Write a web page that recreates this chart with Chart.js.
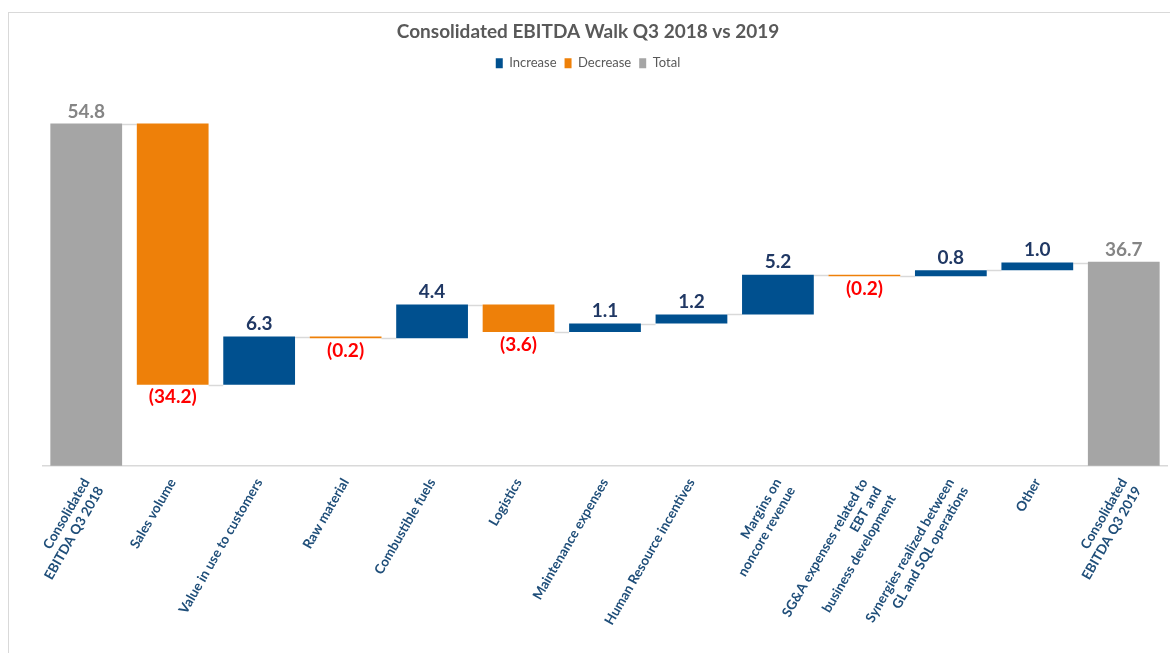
<!DOCTYPE html>
<html>
<head>
<meta charset="utf-8">
<title>Consolidated EBITDA Walk</title>
<script src="https://cdn.jsdelivr.net/npm/chart.js@4.4.0/dist/chart.umd.min.js"></script>
<style>
    html, body { margin: 0; padding: 0; background: #fff; }
    .frame {
        position: absolute;
        left: 8px;
        top: 12px;
        width: 1161px;
        height: 640px;
        border-left: 1px solid #D9D9D9;
        border-top: 1px solid #D9D9D9;
    }
    canvas { display: block; }
</style>
</head>
<body>
<div class="frame"><canvas id="walkChart" width="1161" height="640"></canvas></div>
<script>
/* ---- data ---- */
const CATEGORIES = [
    ['Consolidated', 'EBITDA Q3 2018'],
    'Sales volume',
    'Value in use to customers',
    'Raw material',
    'Combustible fuels',
    'Logistics',
    'Maintenance expenses',
    'Human Resource incentives',
    ['Margins on', 'noncore revenue'],
    ['SG&A expenses related to', 'EBT and', 'business development'],
    ['Synergies realized between', 'GL and SQL operations'],
    'Other',
    ['Consolidated', 'EBITDA Q3 2019']
];
const START_TOTAL = 54.8;
const END_TOTAL = 36.7;
const CHANGES = [-34.2, 6.3, -0.2, 4.4, -3.6, 1.1, 1.2, 5.2, -0.2, 0.8, 1.0];
const SERIES_NAMES = ['Increase', 'Decrease', 'Total'];
const Y_MIN = 10;
const Y_MAX = 60;

/* ---- build floating bars from the running total ---- */
const increaseData = [null];
const decreaseData = [null];
const totalData = [START_TOTAL];
const levels = [START_TOTAL];
let running = START_TOTAL;
CHANGES.forEach(function(d) {
    const next = running + d;
    if (d >= 0) {
        increaseData.push([running, next]);
        decreaseData.push(null);
    } else {
        decreaseData.push([running, next]);
        increaseData.push(null);
    }
    totalData.push(null);
    running = next;
    levels.push(next);
});
increaseData.push(null);
decreaseData.push(null);
totalData.push(END_TOTAL);
levels.push(END_TOTAL);

const BLUE = '#00508F';
const ORANGE = '#EE8009';
const GRAY = '#A5A5A5';

function barAt(chart, i) {
    for (let di = 0; di < chart.data.datasets.length; di++) {
        if (chart.data.datasets[di].data[i] !== null) {
            return chart.getDatasetMeta(di).data[i];
        }
    }
    return null;
}

// a bit of space under the legend
const legendMargin = {
    id: 'legendMargin',
    beforeInit(chart) {
        const fit = chart.legend.fit;
        chart.legend.fit = function() {
            fit.bind(chart.legend)();
            this.height += 4;
        };
    }
};

// thin grey lines joining each bar to the next one
const connectorPlugin = {
    id: 'connectors',
    beforeDatasetsDraw(chart) {
        const ctx = chart.ctx;
        const y = chart.scales.y;
        ctx.save();
        ctx.strokeStyle = '#D9D9D9';
        ctx.lineWidth = 1.5;
        for (let i = 0; i < CATEGORIES.length - 1; i++) {
            const a = barAt(chart, i);
            const b = barAt(chart, i + 1);
            if (!a || !b) continue;
            const py = Math.round(y.getPixelForValue(levels[i])) + 0.5;
            ctx.beginPath();
            ctx.moveTo(a.x + a.width / 2, py);
            ctx.lineTo(b.x - b.width / 2, py);
            ctx.stroke();
        }
        ctx.restore();
    }
};

// value labels: above for totals / increases, below in brackets for decreases
const labelPlugin = {
    id: 'walkLabels',
    afterDatasetsDraw(chart) {
        const ctx = chart.ctx;
        ctx.save();
        ctx.font = 'bold 19px Lato';
        ctx.textAlign = 'center';
        chart.data.datasets.forEach(function(ds, di) {
            const meta = chart.getDatasetMeta(di);
            meta.data.forEach(function(bar, i) {
                if (ds.data[i] === null) return;
                const top = Math.min(bar.y, bar.base);
                const bottom = Math.max(bar.y, bar.base);
                if (ds.label === 'Total') {
                    ctx.fillStyle = '#858585';
                    ctx.textBaseline = 'bottom';
                    ctx.fillText(ds.data[i].toFixed(1), bar.x, top - 2);
                } else if (ds.label === 'Increase') {
                    ctx.fillStyle = '#203864';
                    ctx.textBaseline = 'bottom';
                    ctx.fillText(CHANGES[i - 1].toFixed(1), bar.x, top - 3);
                } else {
                    ctx.fillStyle = '#FF0000';
                    ctx.textBaseline = 'top';
                    ctx.fillText('(' + Math.abs(CHANGES[i - 1]).toFixed(1) + ')', bar.x, bottom + 3);
                }
            });
        });
        ctx.restore();
    }
};

const ctx = document.getElementById('walkChart').getContext('2d');
new Chart(ctx, {
    type: 'bar',
    data: {
        labels: CATEGORIES,
        datasets: [
            { label: SERIES_NAMES[0], data: increaseData, backgroundColor: BLUE, grouped: false },
            { label: SERIES_NAMES[1], data: decreaseData, backgroundColor: ORANGE, grouped: false },
            { label: SERIES_NAMES[2], data: totalData, backgroundColor: GRAY, grouped: false }
        ]
    },
    options: {
        responsive: false,
        animation: false,
        categoryPercentage: 1,
        barPercentage: 0.83,
        layout: {
            padding: { left: 0, right: 3, top: 0, bottom: 7 }
        },
        plugins: {
            title: {
                display: true,
                text: 'Consolidated EBITDA Walk Q3 2018 vs 2019',
                color: '#595959',
                font: { family: 'Lato', size: 19, weight: 'bold' },
                padding: { top: 7, bottom: 6 }
            },
            legend: {
                position: 'top',
                labels: {
                    color: '#595959',
                    font: { family: 'Lato', size: 13 },
                    boxWidth: 7,
                    boxHeight: 10,
                    padding: 8
                }
            },
            tooltip: { enabled: false }
        },
        scales: {
            x: {
                grid: { display: false },
                border: { display: true, color: '#D9D9D9', width: 1.5 },
                ticks: {
                    autoSkip: false,
                    minRotation: 60,
                    maxRotation: 60,
                    padding: 2,
                    color: '#1F4E79',
                    font: { family: 'Lato', size: 13.5, weight: 'bold' }
                }
            },
            y: {
                min: Y_MIN,
                max: Y_MAX,
                grid: { display: false },
                border: { display: false },
                ticks: { display: false },
                afterFit: function(scale) { scale.width = 34; }
            }
        }
    },
    plugins: [legendMargin, connectorPlugin, labelPlugin]
});
</script>
</body>
</html>
